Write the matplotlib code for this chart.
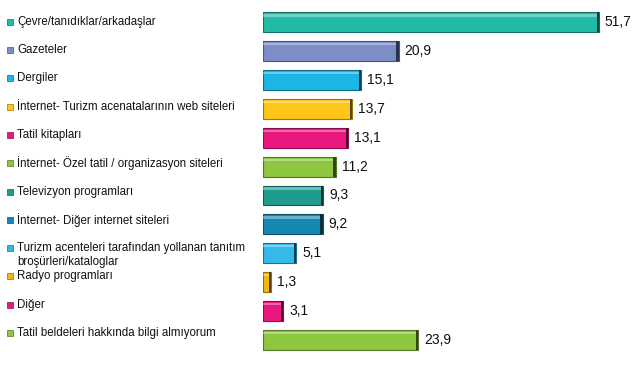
import matplotlib.pyplot as plt
from matplotlib.colors import to_rgb

plt.rcParams["font.family"] = ["Liberation Sans", "DejaVu Sans"]

categories = [
    "Çevre/tanıdıklar/arkadaşlar",
    "Gazeteler",
    "Dergiler",
    "İnternet- Turizm acenatalarının web siteleri",
    "Tatil kitapları",
    "İnternet- Özel tatil / organizasyon siteleri",
    "Televizyon programları",
    "İnternet- Diğer internet siteleri",
    "Turizm acenteleri tarafından yollanan tanıtım\nbroşürleri/kataloglar",
    "Radyo programları",
    "Diğer",
    "Tatil beldeleri hakkında bilgi almıyorum",
]
values = [51.7, 20.9, 15.1, 13.7, 13.1, 11.2, 9.3, 9.2, 5.1, 1.3, 3.1, 23.9]
colors = [
    "#22BBA6", "#7C8DC8", "#1BB6E6", "#FFC619", "#E9187F", "#8DC63F",
    "#1F9C8D", "#1788B1", "#35B9E9", "#F3B80F", "#E9187F", "#8DC63F",
]


def darker(c, f=0.6):
    r, g, b = to_rgb(c)
    return (r * f, g * f, b * f)


W, H = 640, 369
fig = plt.figure(figsize=(W / 100, H / 100), dpi=100)
ax = fig.add_axes([263 / W, 14.9 / H, 367 / W, 346.1 / H])

ypos = list(range(len(values)))
ax.barh(ypos, values, height=0.69, color=colors,
        edgecolor=[darker(c) for c in colors], linewidth=0.8)
# light highlight along the top of each bar
ax.barh([y - 0.24 for y in ypos], values, height=0.08,
        color="white", alpha=0.35, linewidth=0)
# dark shaded right edge
ax.barh(ypos, [0.35] * len(values), left=[v - 0.35 for v in values],
        height=0.69, color=[darker(c, 0.35) for c in colors], linewidth=0)

for y, v in zip(ypos, values):
    ax.text(v + 0.9, y, f"{v:.1f}".replace(".", ","), va="center",
            ha="left", fontsize=10, color="#111111")

# legend-like category labels on the left, on their own spacing
for i, (lab, c) in enumerate(zip(categories, colors)):
    py = 21.7 + i * 28.3
    for j, line in enumerate(lab.split("\n")):
        fig.text(17 / W, 1 - (py + j * 13.7) / H, line, va="center",
                 ha="left", fontsize=8.3, color="#111111")
    fig.add_artist(plt.Line2D([10 / W], [1 - py / H], marker="s",
                              markersize=4, color=c,
                              markeredgecolor=darker(c),
                              markeredgewidth=0.5))

ax.set_xlim(0, 56.5)
ax.set_ylim(len(values) - 0.5, -0.5)
ax.axis("off")

fig.savefig("out.png", dpi=100)
